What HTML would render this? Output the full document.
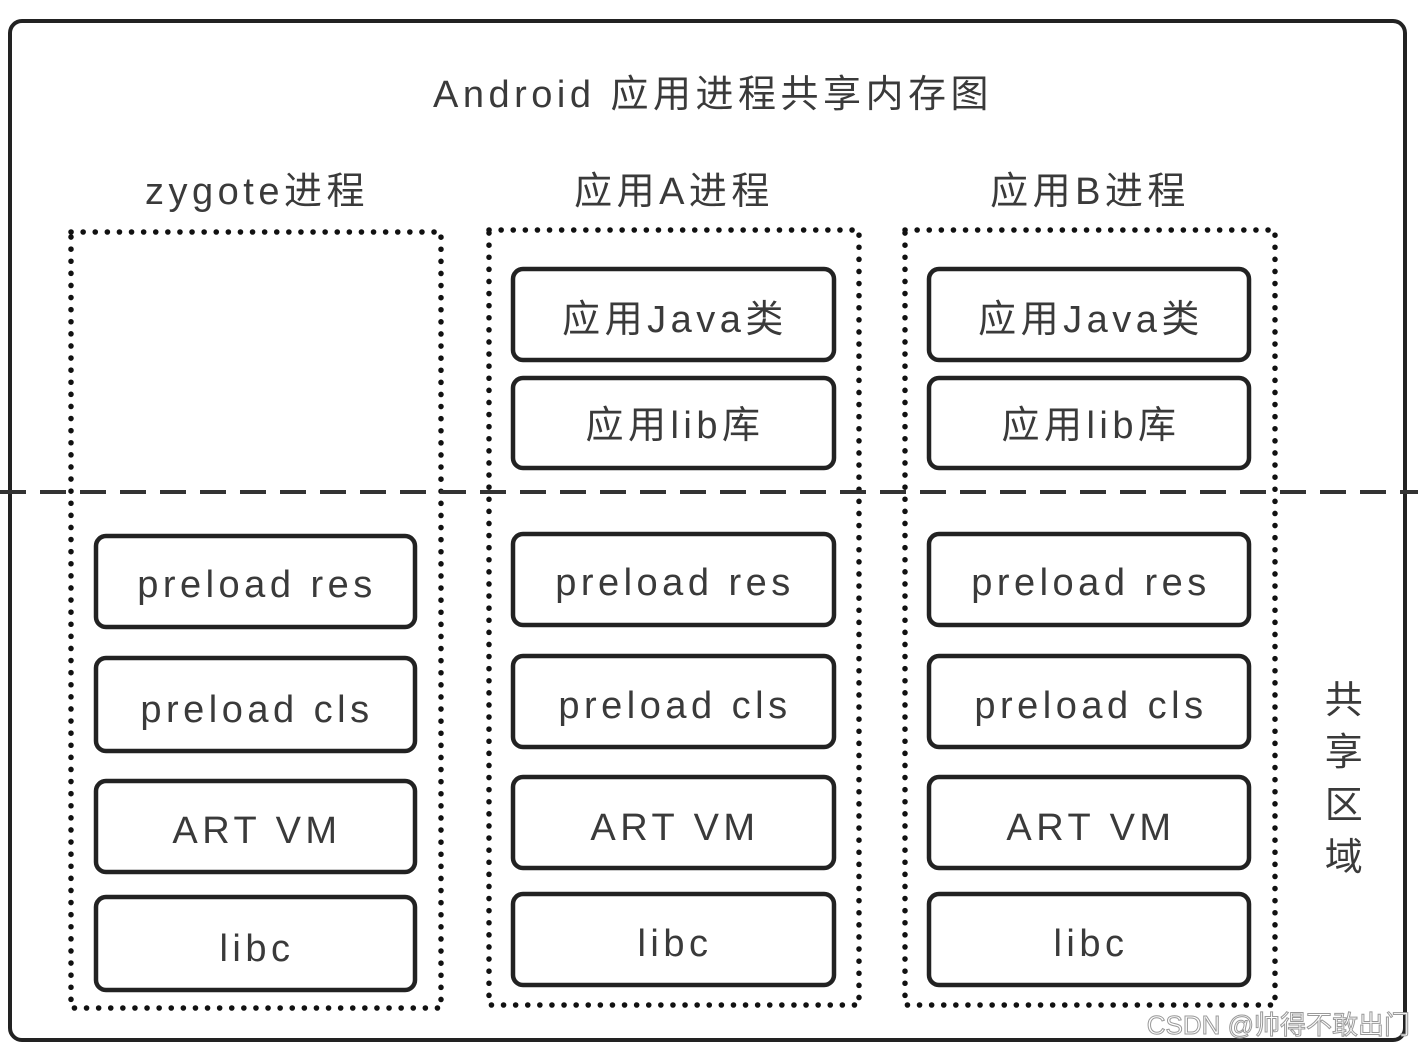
<!DOCTYPE html><html><head><meta charset="utf-8"><style>
body{margin:0;background:#fff;}
svg text{font-family:"Liberation Sans","Noto Sans CJK SC",sans-serif;fill:#3a3a3a;letter-spacing:4.5px;}
</style></head><body>
<svg width="1418" height="1050" viewBox="0 0 1418 1050" xmlns="http://www.w3.org/2000/svg">
<rect x="0" y="0" width="1418" height="1050" fill="#fff"/>
<rect x="10" y="21" width="1395" height="1019" rx="12" fill="none" stroke="#222" stroke-width="4"/>
<text x="713" y="107" font-size="38" text-anchor="middle">Android 应用进程共享内存图</text>
<g font-size="38" text-anchor="middle">
<text x="257" y="204">zygote进程</text>
<text x="674" y="204">应用A进程</text>
<text x="1090" y="204">应用B进程</text>
</g>
<g fill="none" stroke="#111" stroke-width="5.5" stroke-dasharray="0.1 12" stroke-linecap="round">
<rect x="71" y="232" width="370" height="776"/>
<rect x="489" y="230" width="370" height="775"/>
<rect x="905" y="230" width="370" height="775"/>
</g>
<line x1="0" y1="492" x2="1418" y2="492" stroke="#333" stroke-width="4" stroke-dasharray="26 14"/>
<g fill="#fff" stroke="#222" stroke-width="4.5">
<rect x="96" y="536" width="319" height="91" rx="10"/>
<rect x="96" y="658" width="319" height="93" rx="10"/>
<rect x="96" y="781" width="319" height="91" rx="10"/>
<rect x="96" y="897" width="319" height="93" rx="10"/>
<rect x="513" y="269" width="321" height="91" rx="10"/>
<rect x="513" y="378" width="321" height="90" rx="10"/>
<rect x="513" y="534" width="321" height="91" rx="10"/>
<rect x="513" y="656" width="321" height="91" rx="10"/>
<rect x="513" y="777" width="321" height="91" rx="10"/>
<rect x="513" y="894" width="321" height="91" rx="10"/>
<rect x="929" y="269" width="320" height="91" rx="10"/>
<rect x="929" y="378" width="320" height="90" rx="10"/>
<rect x="929" y="534" width="320" height="91" rx="10"/>
<rect x="929" y="656" width="320" height="91" rx="10"/>
<rect x="929" y="777" width="320" height="91" rx="10"/>
<rect x="929" y="894" width="320" height="91" rx="10"/>
</g>
<g font-size="38" text-anchor="middle">
<text x="257" y="597">preload res</text>
<text x="257" y="722">preload cls</text>
<text x="257" y="843">ART VM</text>
<text x="257" y="961">libc</text>
<text x="675" y="332">应用Java类</text>
<text x="675" y="438">应用lib库</text>
<text x="675" y="595">preload res</text>
<text x="675" y="718">preload cls</text>
<text x="675" y="840">ART VM</text>
<text x="675" y="956">libc</text>
<text x="1091" y="332">应用Java类</text>
<text x="1091" y="438">应用lib库</text>
<text x="1091" y="595">preload res</text>
<text x="1091" y="718">preload cls</text>
<text x="1091" y="840">ART VM</text>
<text x="1091" y="956">libc</text>
</g>
<g font-size="38" text-anchor="middle" style="letter-spacing:0">
<text x="1346" y="713">共</text>
<text x="1346" y="765">享</text>
<text x="1346" y="818">区</text>
<text x="1346" y="870">域</text>
</g>
<text x="1410" y="1034" font-size="26" text-anchor="end" style="fill:#fff;stroke:#999;stroke-width:1;letter-spacing:0">CSDN @帅得不敢出门</text>
</svg>
</body></html>
